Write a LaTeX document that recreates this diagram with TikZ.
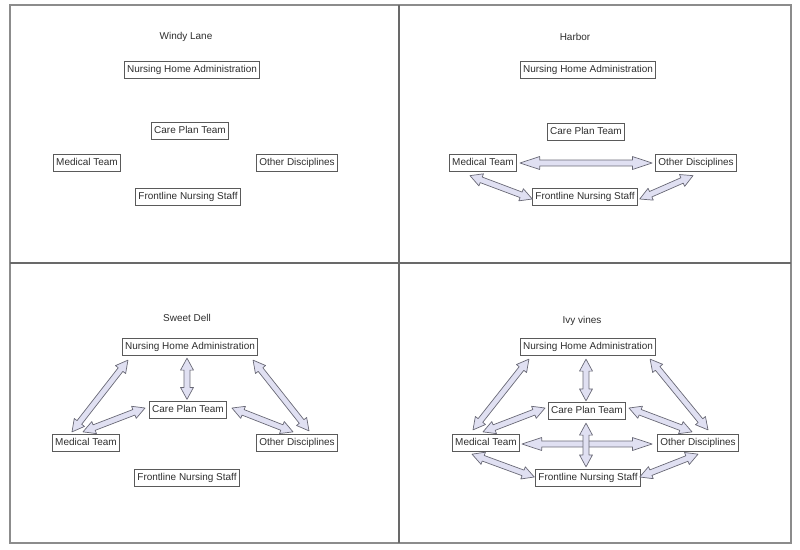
\documentclass[tikz,border=0pt]{standalone}
\usepackage{fontspec}
\setmainfont{Liberation Sans}
\usetikzlibrary{calc}
\definecolor{framegray}{RGB}{140,140,140}
\definecolor{boxgray}{RGB}{90,90,90}
\definecolor{linkfill}{RGB}{224,224,242}
\definecolor{linkgray}{RGB}{105,105,118}
\definecolor{darkgray}{RGB}{45,45,45}

% double-headed block arrow, tip to tip
\newcommand{\biarrow}[3][8.5pt]{%
  \filldraw[link] let \p1=(#2), \p2=(#3), \n1={atan2(\y2-\y1,\x2-\x1)} in
    (\p1) -- ($(\p1)+(\n1:#1)+(\n1+90:4.6pt)$) -- ($(\p1)+(\n1:#1)+(\n1+90:2.1pt)$)
    -- ($(\p2)+(\n1+180:#1)+(\n1+90:2.1pt)$) -- ($(\p2)+(\n1+180:#1)+(\n1+90:4.6pt)$)
    -- (\p2) -- ($(\p2)+(\n1+180:#1)+(\n1-90:4.6pt)$) -- ($(\p2)+(\n1+180:#1)+(\n1-90:2.1pt)$)
    -- ($(\p1)+(\n1:#1)+(\n1-90:2.1pt)$) -- ($(\p1)+(\n1:#1)+(\n1-90:4.6pt)$) -- cycle;}

\begin{document}
\begin{tikzpicture}[x=0.025cm, y=-0.025cm,
    box/.style={draw=boxgray, line width=0.5pt, inner xsep=2pt, inner ysep=2.9pt,
      text height=5.2pt, text depth=1.5pt, font=\fontsize{7.1}{8}\selectfont, text=darkgray},
    title/.style={font=\fontsize{7.1}{8}\selectfont, text=darkgray},
    link/.style={draw=linkgray, fill=linkfill, line width=0.5pt, line join=round}]
    \useasboundingbox (0,0) rectangle (800,549);

    % Frame and quadrants
    \draw[framegray, line width=0.9pt] (10,5) rectangle (791,543);
    \draw[framegray!75!black, line width=0.8pt] (399,5) -- (399,543);
    \draw[framegray!75!black, line width=0.8pt] (10,263) -- (791,263);

    % Windy Lane (no links)
    \node[title] (atitle) at (186,37) {Windy Lane};
    \node[box] (anha) at (192,70) {Nursing Home Administration};
    \node[box] (acpt) at (190,131) {Care Plan Team};
    \node[box] (amed) at (87,163) {Medical Team};
    \node[box] (aoth) at (297,163) {Other Disciplines};
    \node[box] (afl) at (188,197) {Frontline Nursing Staff};

    % Harbor
    \node[title] (btitle) at (575,37) {Harbor};
    \node[box] (bnha) at (588,70) {Nursing Home Administration};
    \node[box] (bcpt) at (586,132) {Care Plan Team};
    \node[box] (bmed) at (483,163) {Medical Team};
    \node[box] (both) at (696,163) {Other Disciplines};
    \node[box] (bfl) at (585,197) {Frontline Nursing Staff};
    \biarrow[14pt]{$(bmed.east)+(3,0)$}{$(both.west)+(-3,0)$}
    \biarrow{$(bmed.south)+(-13,3.5)$}{$(bfl.west)+(0,2)$}
    \biarrow{$(both.south)+(-3,3.5)$}{$(bfl.east)+(2,2)$}

    % Sweet Dell
    \node[title] (ctitle) at (187,318) {Sweet Dell};
    \node[box] (cnha) at (190,347) {Nursing Home Administration};
    \node[box] (ccpt) at (188,410) {Care Plan Team};
    \node[box] (cmed) at (86,443) {Medical Team};
    \node[box] (coth) at (297,443) {Other Disciplines};
    \node[box] (cfl) at (187,478) {Frontline Nursing Staff};
    \biarrow{$(cnha.south west)+(6,4)$}{$(cmed.north)+(-14,-2)$}
    \biarrow{$(ccpt.west)+(-4,-2)$}{$(cmed.north)+(-3,-2)$}
    \biarrow{$(cnha.south)+(-3,2)$}{$(ccpt.north)+(-1,-1.5)$}
    \biarrow{$(cnha.south east)+(-5,4)$}{$(coth.north)+(12,-3)$}
    \biarrow{$(ccpt.east)+(5,-2)$}{$(coth.north)+(-4,-2)$}

    % Ivy vines
    \node[title] (dtitle) at (582,321) {Ivy vines};
    \node[box] (dnha) at (588,347) {Nursing Home Administration};
    \node[box] (dcpt) at (587,411) {Care Plan Team};
    \node[box] (dmed) at (486,443) {Medical Team};
    \node[box] (doth) at (698,443) {Other Disciplines};
    \node[box] (dfl) at (588,478) {Frontline Nursing Staff};
    \biarrow{$(dnha.south west)+(9,3)$}{$(dmed.north)+(-13,-4)$}
    \biarrow{$(dcpt.west)+(-3,-3)$}{$(dmed.north)+(-3,-2)$}
    \biarrow{$(dnha.south)+(-2,3)$}{$(dcpt.north)+(-1,-1)$}
    \biarrow{$(dnha.south east)+(-6,3)$}{$(doth.north)+(10,-4)$}
    \biarrow{$(dcpt.east)+(3,-3)$}{$(doth.north)+(-6,-2)$}
    \biarrow[14pt]{$(dmed.east)+(2,1)$}{$(doth.west)+(-5,1)$}
    \biarrow{$(dcpt.south)+(-1,3)$}{$(dfl.north)+(-2,-2)$}
    \biarrow{$(dmed.south)+(-14,2)$}{$(dfl.west)+(-1,-1)$}
    \biarrow{$(doth.south)+(0,2)$}{$(dfl.east)+(-1,-1)$}
\end{tikzpicture}
\end{document}
